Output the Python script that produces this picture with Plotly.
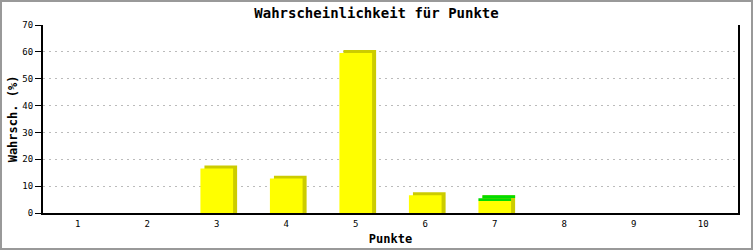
import plotly.graph_objects as go

punkte = [1, 2, 3, 4, 5, 6, 7, 8, 9, 10]
wahrsch = [0, 0, 16.6, 12.8, 59.6, 6.6, 4.5, 0, 0, 0]
zusatz = [0, 0, 0, 0, 0, 0, 1.0, 0, 0, 0]
y_ticks = [0, 10, 20, 30, 40, 50, 60, 70]

W, H = 753, 250
ML, MR, MT, MB = 43, 15, 25, 37
BAR_W = 0.47
SH_DX = 0.058   # shadow shift (x units)
SH_DY = 1.1     # shadow lift (y units)

YELLOW = "#ffff00"
OLIVE = "#cccc00"
GREEN = "#00dd00"
MONO = "DejaVu Sans Mono"

tot = [a + b for a, b in zip(wahrsch, zusatz)]
shadow_y = [t + SH_DY if t > 0 else None for t in tot]

fig = go.Figure()
fig.add_trace(go.Bar(x=punkte, y=shadow_y, width=BAR_W, offset=-BAR_W / 2 + SH_DX,
                     marker=dict(color=OLIVE, line=dict(width=0)), hoverinfo="skip",
                     showlegend=False))
g_x = [p for p, z in zip(punkte, zusatz) if z > 0]
g_y = [z for z in zusatz if z > 0]
g_b = [w + SH_DY for w, z in zip(wahrsch, zusatz) if z > 0]
fig.add_trace(go.Bar(x=g_x, y=g_y, base=g_b, width=BAR_W, offset=-BAR_W / 2 + SH_DX,
                     marker=dict(color=GREEN, line=dict(width=0)), hoverinfo="skip",
                     showlegend=False))
fig.add_trace(go.Bar(x=punkte, y=[v if v > 0 else None for v in wahrsch], width=BAR_W,
                     offset=-BAR_W / 2, marker=dict(color=YELLOW, line=dict(width=0)),
                     showlegend=False))
fig.add_trace(go.Bar(x=g_x, y=g_y, base=[w for w, z in zip(wahrsch, zusatz) if z > 0],
                     width=BAR_W, offset=-BAR_W / 2,
                     marker=dict(color=GREEN, line=dict(width=0)), showlegend=False))

fig.update_layout(
    width=W, height=H, barmode="overlay",
    margin=dict(l=ML, r=MR, t=MT, b=MB, pad=0, autoexpand=False),
    paper_bgcolor="white", plot_bgcolor="white",
    title=dict(text="<b>Wahrscheinlichkeit für Punkte</b>", x=0.5, xanchor="center",
               y=1 - 13 / H, yanchor="middle", yref="container", automargin=False,
               font=dict(family=MONO, size=14, color="black")),
    xaxis=dict(range=[0.5, 10.5], tickmode="array", tickvals=punkte,
               ticktext=[str(p) for p in punkte], showgrid=False, zeroline=False,
               showline=True, linecolor="black", linewidth=2, ticks="",
               ticklabelstandoff=1, automargin=False,
               tickfont=dict(family=MONO, size=9, color="black"),
               title=dict(text="<b>Punkte</b>", standoff=7,
                          font=dict(family=MONO, size=12, color="black"))),
    yaxis=dict(range=[0, 70], tickmode="array", tickvals=y_ticks,
               ticktext=[str(t) for t in y_ticks], showgrid=True,
               gridcolor="#bbbbbb", griddash="2px,4px", gridwidth=1, zeroline=False,
               showline=True, linecolor="black", linewidth=2, mirror=True,
               ticks="outside", ticklen=6, tickcolor="black", tickwidth=1,
               automargin=False,
               tickfont=dict(family=MONO, size=9, color="black"),
               title=dict(text="<b>Wahrsch. (%)</b>", standoff=2,
                          font=dict(family=MONO, size=12, color="black"))),
)

pw, ph = W - ML - MR, H - MT - MB
fig.add_shape(type="rect", xref="paper", yref="paper",
              x0=(-ML + 1) / pw, x1=1 + (MR - 1) / pw,
              y0=(-MB + 1) / ph, y1=1 + (MT - 1) / ph,
              line=dict(color="#999999", width=2), fillcolor="rgba(0,0,0,0)",
              layer="above")

fig.write_html("out.html")
